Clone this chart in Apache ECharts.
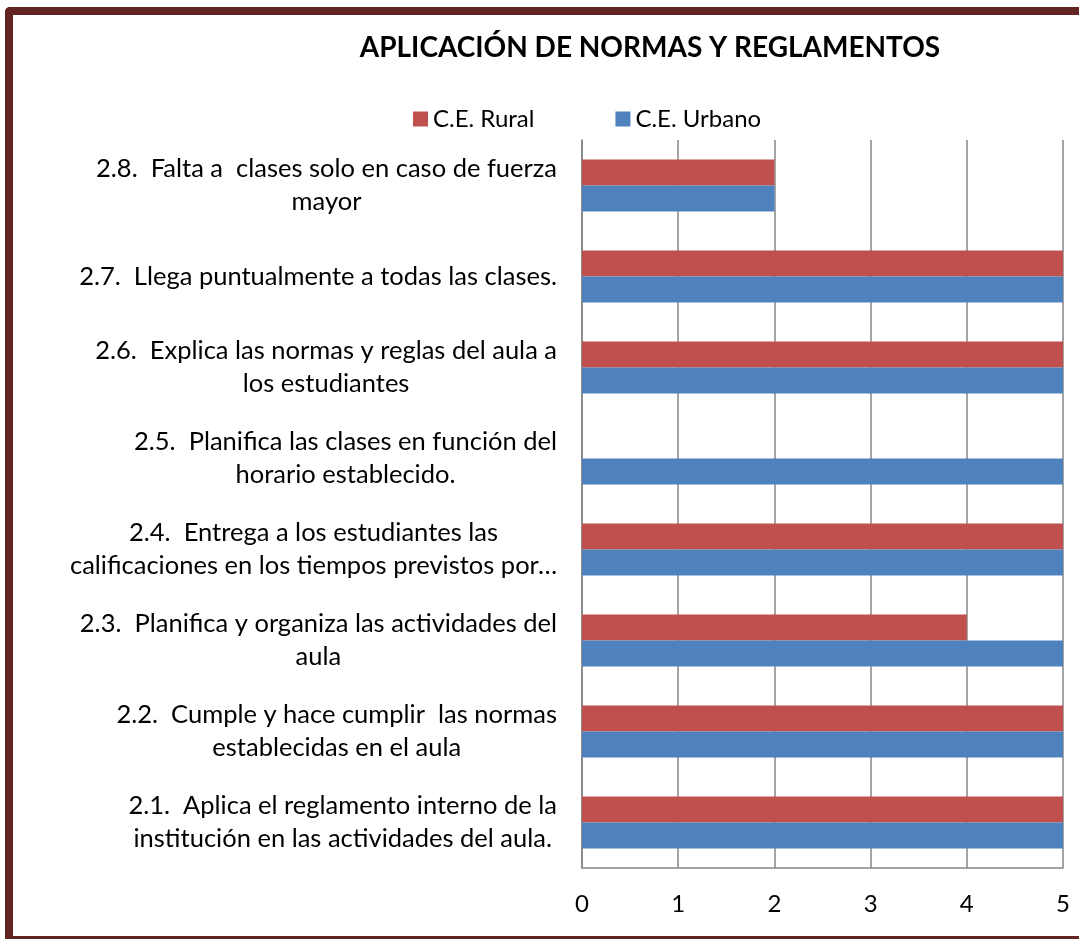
<!DOCTYPE html>
<html>
<head>
<meta charset="utf-8">
<script src="https://cdn.jsdelivr.net/npm/echarts@6/dist/echarts.min.js"></script>
<style>
  body { margin: 0; background: #fff; }
  #frame {
    position: absolute; left: 5px; top: 7px; width: 1200px; height: 921px;
    border-left: 8px solid #632523; border-top: 8px solid #632523; border-bottom: 3px solid #632523;
    border-top-left-radius: 5px;
  }
  #chart { position: absolute; left: 0; top: 0; width: 1079px; height: 941px; }
</style>
</head>
<body>
<div id="frame"></div>
<div id="chart"></div>
<script>
// categories bottom -> top
const categories = [
  '2.1.  Aplica el reglamento interno de la\ninstitución en las actividades del aula.',
  '2.2.  Cumple y hace cumplir  las normas\nestablecidas en el aula',
  '2.3.  Planifica y organiza las actividades del\naula',
  '2.4.  Entrega a los estudiantes las\ncalificaciones en los tiempos previstos por…',
  '2.5.  Planifica las clases en función del\nhorario establecido.',
  '2.6.  Explica las normas y reglas del aula a\nlos estudiantes',
  '2.7.  Llega puntualmente a todas las clases.',
  '2.8.  Falta a  clases solo en caso de fuerza\nmayor'
]
const rural = [5, 5, 4, 5, 0, 5, 5, 2]
const urbano = [5, 5, 5, 5, 5, 5, 5, 2]
const xTicks = [0, 1, 2, 3, 4, 5]

const myChart = echarts.init(document.getElementById('chart'))
const font = 'Lato, "Open Sans", sans-serif'
const gray = '#868686'
const option = {
  animation: false,
  textStyle: { fontFamily: font, color: '#000' },
  title: {
    text: 'APLICACIÓN DE NORMAS Y REGLAMENTOS',
    left: 645,
    top: 29,
    textAlign: 'center',
    textStyle: { fontSize: 28, fontWeight: 'bold', color: '#000', fontFamily: font }
  },
  legend: {
    top: 102,
    left: 408,
    itemWidth: 15,
    itemHeight: 15,
    itemGap: 81,
    icon: 'rect',
    textStyle: { fontSize: 24, color: '#000', fontFamily: font },
    data: ['C.E. Rural', 'C.E. Urbano']
  },
  grid: { left: 582, right: 16, top: 140, bottom: 73 },
  xAxis: {
    type: 'value',
    min: 0,
    max: 5,
    interval: 1,
    axisLine: { show: true, lineStyle: { color: gray, width: 1.5 } },
    axisTick: { show: false },
    splitLine: { show: true, lineStyle: { color: gray, width: 1.5 } },
    axisLabel: {
      fontSize: 24, color: '#000', fontFamily: font, margin: 24,
      formatter: v => xTicks.indexOf(v) >= 0 ? String(v) : ''
    }
  },
  yAxis: {
    type: 'category',
    data: categories,
    axisLine: { show: true, lineStyle: { color: gray, width: 1.5 } },
    axisTick: { show: false },
    splitLine: { show: false },
    axisLabel: {
      margin: 25,
      align: 'right',
      formatter: function(v) {
        return v.split('\n').map(s => '{a|' + s + '}').join('\n')
      },
      rich: {
        a: { fontSize: 25.5, lineHeight: 33, align: 'center', color: '#000', fontFamily: font }
      }
    }
  },
  series: [
    {
      name: 'C.E. Rural',
      type: 'bar',
      data: rural,
      barWidth: 26,
      barGap: '0%',
      itemStyle: { color: '#C0504D' }
    },
    {
      name: 'C.E. Urbano',
      type: 'bar',
      data: urbano,
      barWidth: 26,
      barGap: '0%',
      itemStyle: { color: '#4F81BD' }
    }
  ]
}
myChart.setOption(option)
</script>
</body>
</html>
